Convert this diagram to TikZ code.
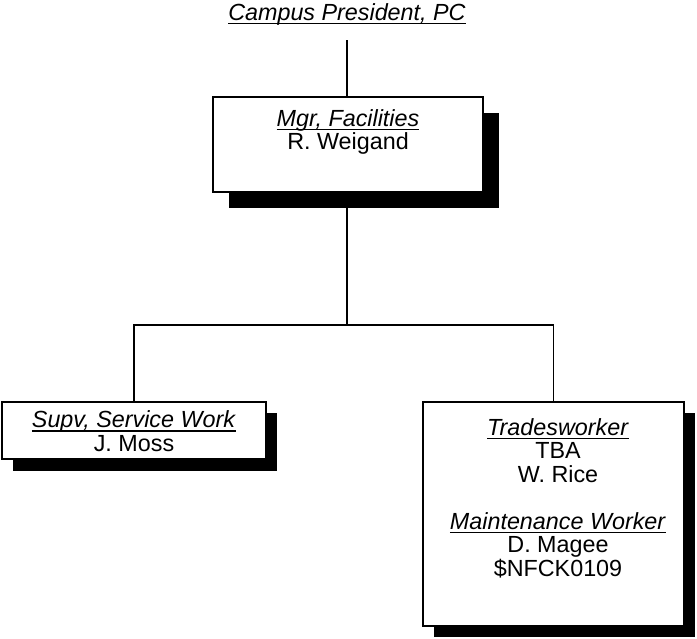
\documentclass[tikz,border=0pt]{standalone}
\usepackage{fontspec}
\setmainfont{Liberation Sans}
\usetikzlibrary{calc,fit}
\newcommand{\ulx}[1]{\leavevmode\setbox0=\hbox{#1}\rlap{\vrule width\wd0 height -2.0pt depth 3.1pt}\box0}
\begin{document}
\begin{tikzpicture}[x=0.75pt,y=-0.75pt,
  txt/.style={font=\fontsize{17.5}{17.6}\selectfont, align=center, inner sep=0pt},
  boxline/.style={draw=black, line width=1.1pt, fill=white, inner sep=0pt},
  shadowfill/.style={fill=black, inner sep=0pt},
  conn/.style={line width=1.1pt}]
\useasboundingbox (0,0) rectangle (697,639);

% top title
\node[txt] (pres) at (347,14) {\ulx{\textit{Campus President, PC}}};

% manager box
\node[shadowfill, fit={(229,113) (499,208)}] (mgrsh) {};
\node[boxline, fit={(213,97) (483,192)}] (mgr) {};
\node[txt] (mgrt) at (348,132) {\ulx{\textit{Mgr, Facilities}}\\R. Weigand};

% left box
\node[shadowfill, fit={(13,413) (277,471)}] (lsh) {};
\node[boxline, fit={(2,402) (266,459)}] (lbox) {};
\node[txt] (lt) at (134,431) {\ulx{\textit{Supv, Service Work}}\\J. Moss};

% right box
\node[shadowfill, fit={(434,413) (695,637)}] (rsh) {};
\node[boxline, fit={(423,402) (684,626)}] (rbox) {};
\node[txt] (rt) at (558,498) {\ulx{\textit{Tradesworker}}\\TBA\\W. Rice\\[17.6pt]\ulx{\textit{Maintenance Worker}}\\D. Magee\\\$NFCK0109};

% connectors
\coordinate (ptop) at (347,40);
\coordinate (bus) at (347,325);
\draw[conn] (ptop) -- (ptop |- mgr.north);
\draw[conn] (mgrsh.south -| ptop) -- (bus);
\draw[conn] (lbox.north) |- (bus) -| (rbox.north);
\end{tikzpicture}
\end{document}
